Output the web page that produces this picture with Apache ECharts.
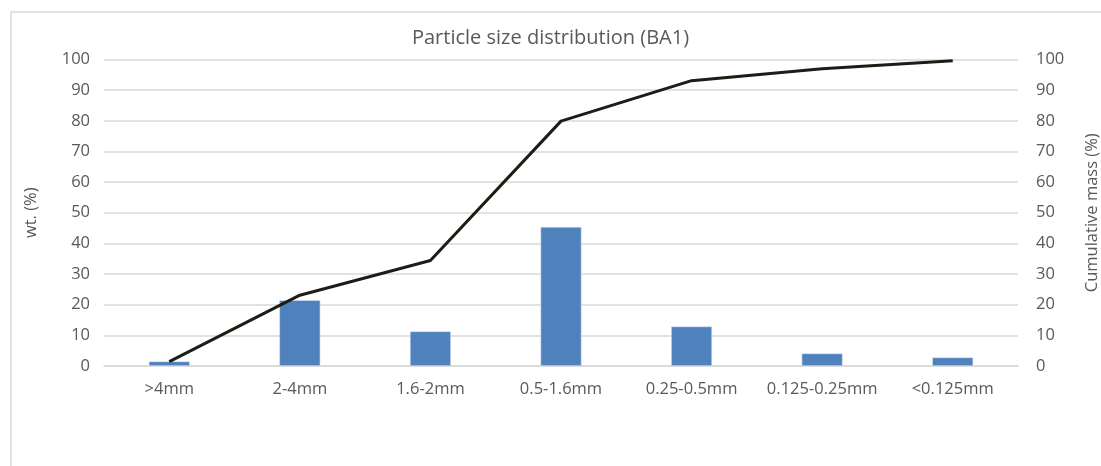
<!DOCTYPE html>
<html>
<head>
<meta charset="utf-8">
<script src="https://cdn.jsdelivr.net/npm/echarts@6/dist/echarts.min.js"></script>
<style>
  html, body { margin: 0; padding: 0; background: #fff; }
  #chart { width: 1101px; height: 466px; }
</style>
</head>
<body>
<div id="chart"></div>
<script>
// Particle size fractions
const categories = ['>4mm', '2-4mm', '1.6-2mm', '0.5-1.6mm', '0.25-0.5mm', '0.125-0.25mm', '<0.125mm'];
// Mass share of each fraction, wt. %
const wtPercent = [1.5, 21.5, 11.3, 45.4, 12.9, 4.1, 2.8];
// Cumulative mass, %
const cumulative = [1.4, 23.1, 34.4, 79.9, 93.1, 97.0, 99.6];
const yTicks = { min: 0, max: 100, interval: 10 };

const FONT = '"Open Sans", sans-serif';
const TXT = '#595959';

const chart = echarts.init(document.getElementById('chart'), null, { renderer: 'canvas' });
chart.setOption({
  animation: false,
  graphic: [{
    type: 'rect',
    shape: { x: 11, y: 12, width: 1200, height: 600 },
    style: { fill: 'none', stroke: '#d9d9d9', lineWidth: 1.5 },
    silent: true
  }],
  title: {
    text: 'Particle size distribution (BA1)',
    left: 'center',
    top: 23,
    textStyle: { fontFamily: FONT, fontSize: 20, fontWeight: 'normal', color: TXT }
  },
  grid: { left: 104, right: 83, top: 59.5, bottom: 100, containLabel: false, outerBoundsMode: 'none' },
  xAxis: {
    type: 'category',
    data: categories,
    axisTick: { show: false },
    axisLine: { lineStyle: { color: '#d9d9d9', width: 1.5 } },
    axisLabel: { fontFamily: FONT, fontSize: 16.5, color: TXT, margin: 15, interval: 0 }
  },
  yAxis: [{
    type: 'value',
    min: yTicks.min, max: yTicks.max, interval: yTicks.interval,
    name: 'wt. (%)',
    nameLocation: 'middle',
    nameGap: 64,
    nameTextStyle: { fontFamily: FONT, fontSize: 16.5, color: TXT },
    axisLabel: { fontFamily: FONT, fontSize: 16.5, color: TXT, margin: 14 },
    axisLine: { show: false },
    axisTick: { show: false },
    splitLine: { lineStyle: { color: '#d9d9d9', width: 1.5 } }
  }, {
    type: 'value',
    min: yTicks.min, max: yTicks.max, interval: yTicks.interval,
    name: 'Cumulative mass (%)',
    nameLocation: 'middle',
    nameGap: 66,
    nameTextStyle: { fontFamily: FONT, fontSize: 16.5, color: TXT },
    axisLabel: { fontFamily: FONT, fontSize: 16.5, color: TXT, margin: 18 },
    axisLine: { show: false },
    axisTick: { show: false },
    splitLine: { show: false }
  }],
  series: [{
    name: 'wt. (%)',
    type: 'bar',
    yAxisIndex: 0,
    data: wtPercent,
    barWidth: 41,
    itemStyle: { color: '#4f81bd', borderColor: '#dbe4f0', borderWidth: 0.6 }
  }, {
    name: 'Cumulative mass (%)',
    type: 'line',
    yAxisIndex: 1,
    data: cumulative,
    symbol: 'none',
    lineStyle: { color: '#1c1d15', width: 3 },
    z: 5
  }]
});
</script>
</body>
</html>
